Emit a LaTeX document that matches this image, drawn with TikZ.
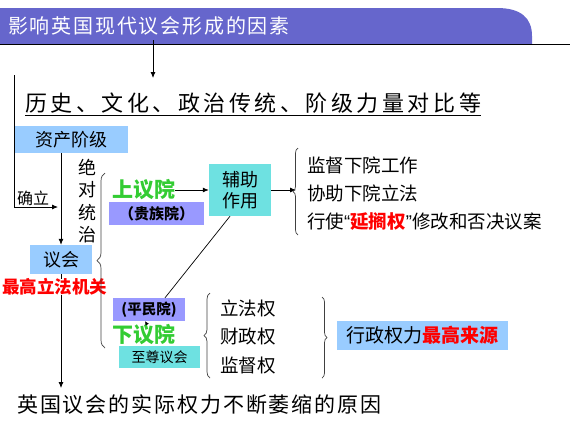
\documentclass[tikz,border=0pt]{standalone}
\usepackage{fontspec}
\setmainfont{Noto Sans CJK SC}
\newfontfamily\cjk{Noto Sans CJK SC}
\newfontfamily\lat{Liberation Sans}
\newfontfamily\cjktitle[LetterSpace=9]{Noto Sans CJK SC}
\newfontfamily\cjkhead[LetterSpace=16]{Noto Sans CJK SC}
\newfontfamily\cjkfoot[LetterSpace=9]{Noto Sans CJK SC}
\usetikzlibrary{decorations.pathreplacing,arrows.meta,calc}
\definecolor{barpurple}{RGB}{102,102,204}
\definecolor{lblue}{RGB}{153,204,255}
\definecolor{lpurple}{RGB}{153,153,255}
\definecolor{lcyan}{RGB}{110,225,225}
\definecolor{hgreen}{RGB}{51,204,51}
\definecolor{hred}{RGB}{255,0,0}
\tikzset{
  box/.style={inner sep=0pt, minimum width=#1},
  txt/.style={inner sep=0pt, anchor=west},
  arr/.style={line width=0.8pt, -{Latex[length=6pt,width=5pt]}},
  brc/.style={line width=0.7pt, draw=black!75, decorate, decoration={brace, amplitude=#1}},
}
\newcommand{\fs}[1]{\fontsize{#1}{#1}\selectfont}
\begin{document}
\begin{tikzpicture}[x=1pt,y=-1pt]
\useasboundingbox (0,0) rectangle (570,424);
% title bar
\fill[barpurple] (0,8) -- (497,8) .. controls (521,8) and (532,18) .. (532,36) -- (532,44) -- (0,44) -- cycle;
\draw[line width=0.9pt] (0,44.5) -- (570,44.5);
\node[txt, text=white] (title) at (8,26) {\cjktitle\fs{20}影响英国现代议会形成的因素};
% heading
\node[txt] (head) at (25,103) {\cjkhead\fs{22}历史、文化、政治传统、阶级力量对比等};
\draw[line width=0.8pt] ([yshift=-4.5pt]head.base west) -- ([yshift=-4.5pt]head.base east);
\coordinate (a0) at (153,40);
\coordinate (a1) at (153,78);
\draw[arr] (a0) -- (a1);
% bourgeoisie and parliament
\node[box=114pt, minimum height=27pt, fill=lblue] (zc) at (71,139.5) {\fs{18}资产阶级};
\node[box=62pt, minimum height=29pt, fill=lblue] (yh) at (61,259.5) {\fs{18}议会};
\draw[arr] (zc.south -| yh.north) -- (yh.north);
\node[inner sep=0pt, align=center, font={\fontsize{18}{22.6}\selectfont}] (jd) at (87,201)
  {绝\\对\\统\\治};
% left line
\coordinate (lt) at (14.7,75);
\coordinate (lb) at (14.7,207);
\coordinate (le) at (58,207);
\draw[arr] (lt) -- (lb) -- (le);
\node[txt] (ql) at (17,198) {\fs{16}确立};
% bottom arrow and text
\node[txt] (foot) at (17,405) {\cjkfoot\fs{21}英国议会的实际权力不断萎缩的原因};
\coordinate (fe) at (61,388);
\draw[arr] (yh.south) -- (fe);
\node[txt, fill=white, text=hred] (zg) at (2,287) {\bfseries\fs{17.5}最高立法机关};
% big brace
\draw[brc=8pt] (105,348) -- (105,173);
% upper house
\node[inner sep=0pt, text=hgreen] (sy) at (143.5,190) {\bfseries\fs{21}上议院};
\node[box=95pt, minimum height=23pt, fill=lpurple] (gz) at (156.5,213.5) {\bfseries\fs{15}（贵族院）};
\node[box=62pt, minimum height=52pt, fill=lcyan, align=center, font={\fontsize{18}{21}\selectfont}] (fz) at (240,190)
  {辅助\\作用};
\draw[arr] (sy.east) -- (fz.west);
\coordinate (fb) at (296,190);
\draw[arr] (fz.east) -- (fb);
\draw[brc=5pt] (298,235) -- (298,148);
\node[txt] (u1) at (307,165) {\fs{18.5}监督下院工作};
\node[txt] (u2) at (307,193) {\fs{18.5}协助下院立法};
\node[txt] (u3) at (307,222) {\fs{18.5}行使{\lat “}\textcolor{hred}{\bfseries 延搁权}{\lat ”}修改和否决议案};
% lower house
\node[box=72pt, minimum height=23pt, fill=lpurple] (pm) at (149,309.5) {\bfseries\fs{14.5}(平民院)};
\draw[line width=0.7pt] ($(fz.south)+(-10,0)$) -- ($(pm.north)+(16,0)$);
\node[inner sep=0pt, text=hgreen] (xy) at (143.5,335) {\bfseries\fs{21}下议院};
\draw[line width=0.6pt, -{Latex[length=4pt,width=4pt]}] ($(xy.north)+(3,-1)$) -- ($(pm.south)+(-4,0)$);
\node[box=81pt, minimum height=22pt, fill=lcyan] (zz) at (159.5,357) {\fs{14}至尊议会};
\draw[brc=6pt] (210,378) -- (210,293);
\node[txt] (l1) at (220,308) {\fs{18.5}立法权};
\node[txt] (l2) at (220,337) {\fs{18.5}财政权};
\node[txt] (l3) at (220,365) {\fs{18.5}监督权};
\draw[brc=5pt] (322,297) -- (322,378);
\node[box=171pt, minimum height=29pt, fill=lblue] (xz) at (422.5,335.5)
  {\fs{19}行政权力\textcolor{hred}{\bfseries 最高来源}};
\end{tikzpicture}
\end{document}
